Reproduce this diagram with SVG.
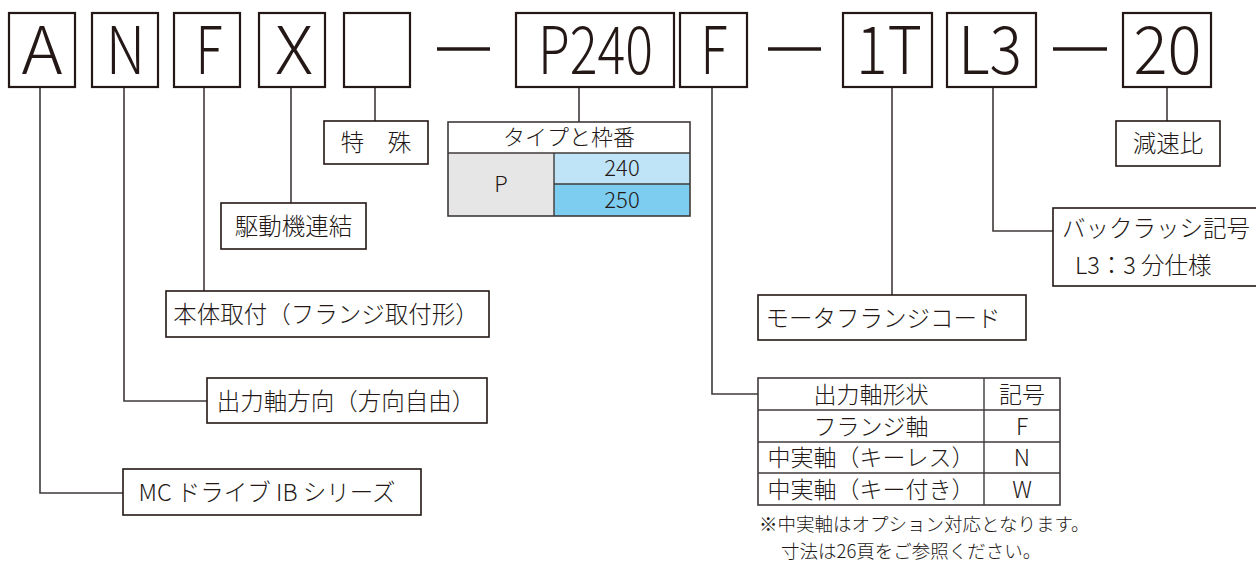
<svg xmlns="http://www.w3.org/2000/svg" width="1256" height="561" viewBox="0 0 1256 561">
<style>
text{font-family:"Noto Sans CJK JP","Noto Sans",sans-serif;fill:#231815;font-weight:300}
.big{font-size:66px;text-anchor:middle}
.bx{fill:#fff;stroke:#231815;stroke-width:2.2}
.sb{fill:#fff;stroke:#231815;stroke-width:1.6}
.lbl{font-size:23.5px;text-anchor:middle}
.tc{font-size:23px;text-anchor:middle}
.tl{font-size:22px;text-anchor:middle}
.ln{fill:none;stroke:#3e3a39;stroke-width:1.6}
.dash{stroke:#231815;stroke-width:3.5}
.note{font-size:18.5px}
</style>
<rect width="1256" height="561" fill="#fff"/>

<g id="connectors">
<polyline class="ln" points="40,87 40,493 123,493"/>
<polyline class="ln" points="124,87 124,401 207,401"/>
<line class="ln" x1="204" y1="87" x2="204" y2="291"/>
<line class="ln" x1="291" y1="87" x2="291" y2="203"/>
<line class="ln" x1="375" y1="87" x2="375" y2="121"/>
<line class="ln" x1="579" y1="87" x2="579" y2="122"/>
<polyline class="ln" points="712,87 712,394 758,394"/>
<line class="ln" x1="892" y1="87" x2="892" y2="295"/>
<polyline class="ln" points="993,87 993,231 1053,231"/>
<line class="ln" x1="1167" y1="87" x2="1167" y2="121"/>
</g>

<g id="code">
<g id="box-A"><rect class="bx" x="9" y="13" width="66" height="74"/><text class="big" x="42" y="74" textLength="41" lengthAdjust="spacingAndGlyphs">A</text></g>
<g id="box-N"><rect class="bx" x="92" y="13" width="66" height="74"/><text class="big" x="125.5" y="74" textLength="39" lengthAdjust="spacingAndGlyphs">N</text></g>
<g id="box-F"><rect class="bx" x="174" y="13" width="66" height="74"/><text class="big" x="209" y="74" textLength="27" lengthAdjust="spacingAndGlyphs">F</text></g>
<g id="box-X"><rect class="bx" x="259" y="13" width="66" height="74"/><text class="big" x="294" y="74" textLength="38" lengthAdjust="spacingAndGlyphs">X</text></g>
<g id="box-blank"><rect class="bx" x="344" y="13" width="66" height="74"/></g>
<line class="dash" x1="437" y1="49" x2="490" y2="49"/>
<g id="box-P240"><rect class="bx" x="516" y="13" width="158" height="74"/><text class="big" x="595.5" y="74" textLength="115" lengthAdjust="spacingAndGlyphs">P240</text></g>
<g id="box-F2"><rect class="bx" x="680" y="13" width="67" height="74"/><text class="big" x="714" y="74" textLength="27" lengthAdjust="spacingAndGlyphs">F</text></g>
<line class="dash" x1="768" y1="49" x2="821" y2="49"/>
<g id="box-1T"><rect class="bx" x="843" y="13" width="89" height="74"/><text class="big" x="889" y="74" textLength="66" lengthAdjust="spacingAndGlyphs">1T</text></g>
<g id="box-L3"><rect class="bx" x="947" y="13" width="89" height="74"/><text class="big" x="990" y="74" textLength="64" lengthAdjust="spacingAndGlyphs">L3</text></g>
<line class="dash" x1="1053" y1="49" x2="1107" y2="49"/>
<g id="box-20"><rect class="bx" x="1123" y="13" width="88" height="74"/><text class="big" x="1167.5" y="74" textLength="68" lengthAdjust="spacingAndGlyphs">20</text></g>
</g>

<g id="tokushu"><rect class="sb" x="324" y="121" width="104" height="43"/><text class="lbl" x="376" y="151">特　殊</text></g>

<g id="type-table">
<rect x="448" y="122" width="242" height="31" fill="#fff"/>
<rect x="448" y="153" width="106" height="63" fill="#e6e6e6"/>
<rect x="554" y="153" width="136" height="31" fill="#bfe3f7"/>
<rect x="554" y="184" width="136" height="32" fill="#7dcdf1"/>
<rect x="448" y="122" width="242" height="94" fill="none" stroke="#3e3a39" stroke-width="1.6"/>
<line x1="448" y1="153" x2="690" y2="153" stroke="#3e3a39" stroke-width="1.4"/>
<line x1="554" y1="184" x2="690" y2="184" stroke="#3e3a39" stroke-width="1.4"/>
<line x1="554" y1="153" x2="554" y2="216" stroke="#3e3a39" stroke-width="1.4"/>
<text class="tl" x="569" y="145">タイプと枠番</text>
<text class="tl" x="501" y="192">P</text>
<text class="tl" x="622" y="176">240</text>
<text class="tl" x="622" y="208">250</text>
</g>

<g id="kudou"><rect class="sb" x="221" y="203" width="145" height="46"/><text class="lbl" x="293.5" y="234.5">駆動機連結</text></g>
<g id="hontai"><rect class="sb" x="166" y="291" width="323" height="46"/><text class="lbl" x="326" y="322.5">本体取付（フランジ取付形）</text></g>
<g id="shutsuryoku"><rect class="sb" x="207" y="378" width="280" height="45"/><text class="lbl" x="346" y="409.5">出力軸方向（方向自由）</text></g>
<g id="mc"><rect class="sb" x="123" y="469" width="298" height="46"/><text class="lbl" x="267" y="500.5">MC ドライブ IB シリーズ</text></g>

<g id="gensoku"><rect class="sb" x="1116" y="121" width="104" height="45"/><text class="lbl" x="1168" y="152">減速比</text></g>
<g id="backlash"><rect class="sb" x="1053" y="208" width="210" height="78"/><text class="lbl" x="1062" y="237" style="text-anchor:start">バックラッシ記号</text><text class="lbl" x="1075" y="274" style="text-anchor:start">L3：3 分仕様</text></g>
<g id="motor"><rect class="sb" x="758" y="295" width="268" height="45"/><text class="lbl" x="883" y="326.5">モータフランジコード</text></g>

<g id="shaft-table">
<rect x="758" y="378" width="302" height="127" fill="#fff" stroke="#3e3a39" stroke-width="1.6"/>
<line x1="758" y1="410" x2="1060" y2="410" stroke="#3e3a39" stroke-width="1.4"/>
<line x1="758" y1="442" x2="1060" y2="442" stroke="#3e3a39" stroke-width="1.4"/>
<line x1="758" y1="473" x2="1060" y2="473" stroke="#3e3a39" stroke-width="1.4"/>
<line x1="984" y1="378" x2="984" y2="505" stroke="#3e3a39" stroke-width="1.4"/>
<text class="tc" x="871" y="403">出力軸形状</text>
<text class="tc" x="1022" y="403">記号</text>
<text class="tc" x="871" y="435">フランジ軸</text>
<text class="tc" x="1022" y="435">F</text>
<text class="tc" x="871" y="466">中実軸（キーレス）</text>
<text class="tc" x="1022" y="466">N</text>
<text class="tc" x="871" y="498">中実軸（キー付き）</text>
<text class="tc" x="1022" y="498">W</text>
</g>

<g id="footnote">
<text class="note" x="759" y="531">※中実軸はオプション対応となります。</text>
<text class="note" x="781" y="558">寸法は26頁をご参照ください。</text>
</g>
</svg>
